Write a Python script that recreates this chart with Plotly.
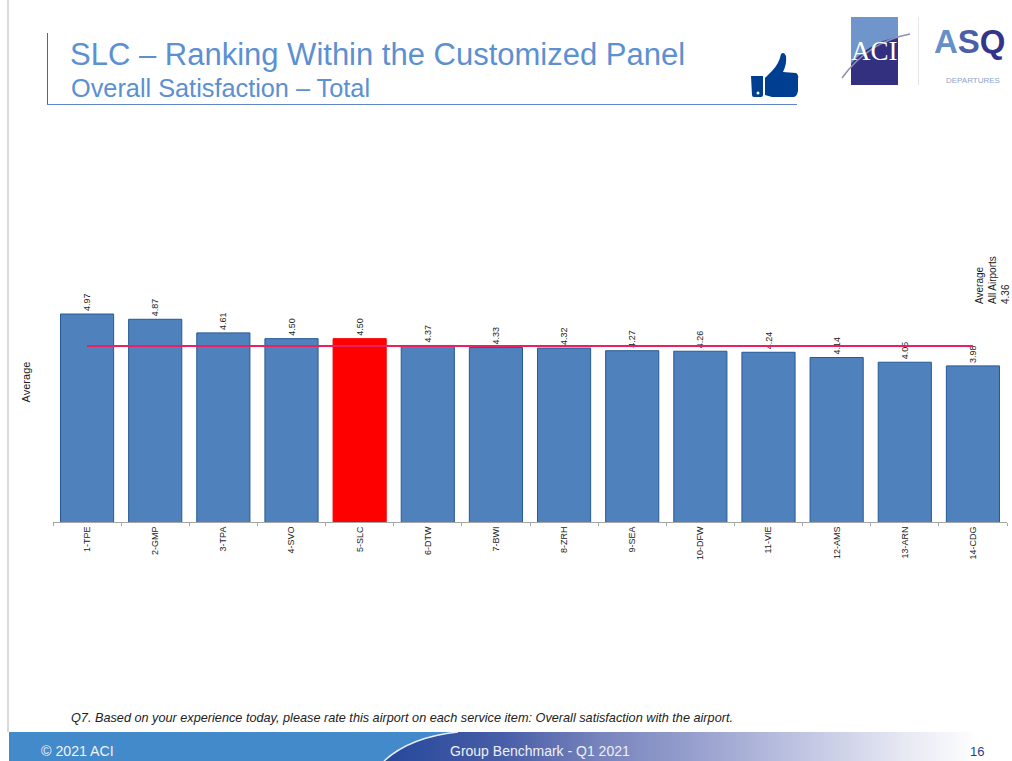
import plotly.graph_objects as go

categories = ["1-TPE", "2-GMP", "3-TPA", "4-SVO", "5-SLC", "6-DTW", "7-BWI", "8-ZRH",
              "9-SEA", "10-DFW", "11-VIE", "12-AMS", "13-ARN", "14-CDG"]
values = [4.97, 4.87, 4.61, 4.50, 4.50, 4.37, 4.33, 4.32, 4.27, 4.26, 4.24, 4.14, 4.05, 3.98]
highlight = "5-SLC"
panel_average = 4.36

W, H = 1012, 761
ML, MR, MT, MB = 53, 5, 242, 239
FONT = "Liberation Sans"
BAR_FILL, BAR_EDGE, RED = "#4f81bd", "#255a94", "#ff0000"
TITLE_BLUE = "#5b90d2"


def px(x):
    return (x - ML) / (W - ML - MR)


def py(y):
    return (H - MB - y) / (H - MT - MB)


def pth(d):
    out = []
    for tok in d:
        if isinstance(tok, str):
            out.append(tok)
        else:
            out.append(f"{px(tok[0]):.5f},{py(tok[1]):.5f}")
    return " ".join(out)


def rect(x0, y0, x1, y1, fill, line=None, lw=0):
    return dict(type="rect", xref="paper", yref="paper", x0=px(x0), x1=px(x1), y0=py(y0), y1=py(y1),
                fillcolor=fill, line=dict(color=line or fill, width=lw), layer="above")


def path(tokens, fill=None, line=None, lw=0):
    return dict(type="path", xref="paper", yref="paper", path=pth(tokens),
                fillcolor=fill or "rgba(0,0,0,0)", line=dict(color=line or "rgba(0,0,0,0)", width=lw), layer="above")


def note(x, y, text, size, color="#222222", xanchor="left", yanchor="middle", family=FONT, **kw):
    return dict(xref="paper", yref="paper", x=px(x), y=py(y), text=text, showarrow=False,
                xanchor=xanchor, yanchor=yanchor, font=dict(size=size, color=color, family=family),
                borderpad=0, **kw)


def mix(a, b, t):
    return tuple(a[i] + (b[i] - a[i]) * t for i in range(3))


stops = [(380, (38, 72, 155)), (500, (72, 94, 168)), (600, (120, 133, 189)), (700, (154, 163, 208)),
         (800, (192, 197, 226)), (900, (230, 232, 243)), (975, (255, 255, 255)), (1012, (255, 255, 255))]

shapes = []
shapes.append(rect(7, 0, 9, 732, "#d9d9d9"))
shapes.append(rect(47, 33, 48, 104, "#3f68b4"))
shapes.append(rect(47, 104, 797, 105, "#5f86c8"))

for i in range(len(stops) - 1):
    x0, c0 = stops[i]
    x1, c1 = stops[i + 1]
    x = x0
    while x < x1:
        c = mix(c0, c1, (x - x0) / (x1 - x0))
        shapes.append(rect(x, 732, x + 5, 761, "rgb(%d,%d,%d)" % c))
        x += 4
shapes.append(path(["M", (9, 732), "L", (458, 732), "Q", (410, 737), (384, 761), "L", (9, 761), "Z"], fill="#438aca"))
shapes.append(path(["M", (458, 732), "Q", (410, 737), (384, 761)], line="#e8eef8", lw=1.5))

# thumbs-up icon
shapes.append(path(["M", (751, 76), "L", (763, 76), "L", (763, 95), "Q", (763, 97), (761, 97), "L", (754, 97),
                    "Q", (752, 97), (752, 95), "Z"], fill="#003e92"))
shapes.append(dict(type="circle", xref="paper", yref="paper", x0=px(756.5), x1=px(759.5), y0=py(91.5), y1=py(94.5),
                   fillcolor="white", line=dict(width=0), layer="above"))
shapes.append(path(["M", (765, 78), "L", (772, 71), "Q", (779, 64), (781, 54), "Q", (784, 51), (786, 56),
                    "Q", (787, 64), (783, 72), "L", (796, 73), "Q", (799, 75), (798, 79), "L", (798, 91),
                    "Q", (797, 97), (793, 97), "L", (772, 97), "L", (765, 95), "Z"], fill="#003e92"))

# ACI logo
shapes.append(rect(851, 17, 898, 85, "#33317f"))
shapes.append(path(["M", (851, 17), "L", (898, 17), "L", (898, 37), "Q", (870, 42), (851, 64), "Z"], fill="#6f95ca"))
shapes.append(path(["M", (842, 78), "Q", (868, 42), (910, 34)], line="#8d90b4", lw=1.5))
shapes.append(rect(918, 17, 919, 85, "#e6e6ea"))

fig = go.Figure()
fig.add_bar(
    x=categories, y=values,
    marker=dict(color=[RED if c == highlight else BAR_FILL for c in categories],
                line=dict(color=[RED if c == highlight else BAR_EDGE for c in categories], width=1)),
    text=[f"{v:.2f}\u00a0\u00a0" for v in values],
    textposition="outside", textangle=-90, cliponaxis=False, constraintext="none",
    textfont=dict(size=9, color="#222222", family=FONT),
    showlegend=False,
)
fig.add_scatter(x=categories, y=[panel_average] * len(categories), mode="lines",
                line=dict(color="#ee1f60", width=2), showlegend=False)

annotations = [
    note(70, 88, "Overall Satisfaction – Total", 25.3, TITLE_BLUE),
    note(992, 305, "Average<br>All Airports<br>4.36", 10, xanchor="center", yanchor="bottom", textangle=-90, align="left"),
    note(70, 718, "<i>Q7. Based on your experience today, please rate this airport on each service item: "
                  "Overall satisfaction with the airport.</i>", 12.7),
    note(40, 751, "© 2021 ACI", 14.2, "#eef3fa"),
    note(449, 751, "Group Benchmark - Q1 2021", 14, "#eef0f8"),
    note(969, 751, "16", 13, "#1f3f95"),
    note(874.5, 51, "ACI", 27, "#ffffff", xanchor="center", family="Liberation Serif"),
    note(970, 41, "<b><span style='color:#6590c8'>A</span><span style='color:#4b5ea8'>S</span>"
                  "<span style='color:#33348a'>Q</span></b>", 33, "#33348a", xanchor="center"),
    note(973, 80, "DEPARTURES", 8, "#8fa3c8", xanchor="center"),
]

fig.update_layout(
    width=W, height=H, autosize=False,
    margin=dict(l=ML, r=MR, t=MT, b=MB, pad=0),
    paper_bgcolor="white", plot_bgcolor="white",
    bargap=0.22,
    font=dict(family=FONT, color="#222222"),
    title=dict(text="SLC – Ranking Within the Customized Panel", font=dict(size=31, color=TITLE_BLUE, family=FONT),
               x=70 / W, xanchor="left", xref="container", y=1 - 54 / H, yanchor="middle", yref="container"),
    xaxis=dict(type="category", categoryorder="array", categoryarray=categories, range=[-0.5, 13.5],
               tickangle=-90, tickson="boundaries", ticks="outside", ticklen=3, tickcolor="#a6a6a6", tickwidth=1,
               showline=True, linecolor="#a6a6a6", linewidth=1, showgrid=False, zeroline=False,
               tickfont=dict(size=9, color="#222222", family=FONT), automargin=False),
    yaxis=dict(range=[1, 6.345], showticklabels=False, ticks="", showgrid=False, zeroline=False, showline=False,
               title=dict(text="Average", standoff=19, font=dict(size=11, color="#222222", family=FONT)), automargin=False),
    shapes=shapes,
    annotations=annotations,
)

fig.write_html("out.html", post_script="document.body.style.margin='0';", config={"displayModeBar": False})
